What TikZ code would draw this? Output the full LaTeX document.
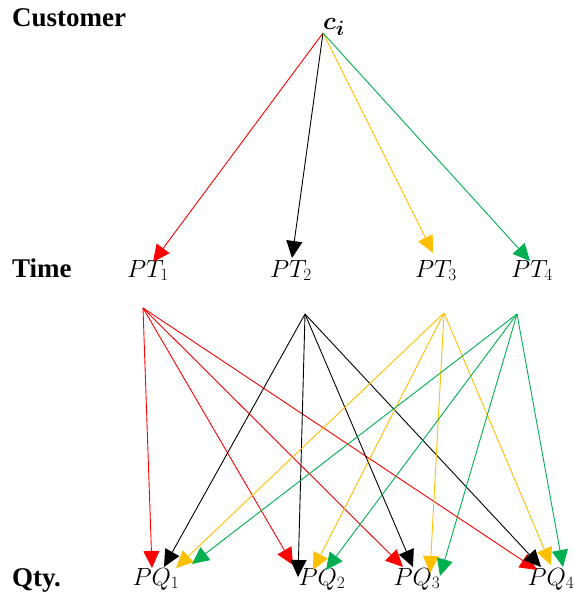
\documentclass[tikz,border=0pt]{standalone}
\usepackage{amsmath,amssymb}
\usepackage{fontspec}
\setmainfont{Liberation Serif}
\newfontfamily\rowfont{Liberation Serif}
\usepackage{xcolor}
\usepackage{tikz}
\usetikzlibrary{arrows.meta, calc}
\definecolor{ArcRed}{HTML}{FF0000}
\definecolor{ArcYellow}{HTML}{FFC000}
\definecolor{ArcGreen}{HTML}{00B050}
\tikzset{
  rowname/.style={anchor=base west, inner sep=0pt,
    font=\fontsize{27}{32}\selectfont\rowfont\bfseries},
  var/.style={anchor=base, inner sep=0pt,
    font=\fontsize{24}{28}\selectfont},
  arrow/.style={-{Triangle[length=17pt, width=16pt]}, line width=0.9pt},
}

\begin{document}
\begin{tikzpicture}[x=1pt, y=-1pt]
  \useasboundingbox (0,0) rectangle (573,594);

  % Row names
  \node[rowname] (rcust) at (12,27)  {Customer};
  \node[rowname] (rtime) at (12,277) {Time};
  \node[rowname] (rqty)  at (12,586) {Qty.};

  % Customer
  \node[var, font=\fontsize{29}{34}\selectfont] (ci) at (334,30) {$\boldsymbol{c_i}$};
  \coordinate (apex) at (323,33);

  % Time
  \node[var] (pt1) at (148,277) {$PT_1$};
  \node[var] (pt2) at (291,277) {$PT_2$};
  \node[var] (pt3) at (436,277) {$PT_3$};
  \node[var] (pt4) at (532,277) {$PT_4$};

  % Qty
  \node[var] (pq1) at (156,585) {$PQ_1$};
  \node[var] (pq2) at (322,585) {$PQ_2$};
  \node[var] (pq3) at (417,585) {$PQ_3$};
  \node[var] (pq4) at (551,585) {$PQ_4$};

  % Arrow ends at the time row
  \coordinate (t1) at (153,262);
  \coordinate (t2) at (292,258);
  \coordinate (t3) at (433,253);
  \coordinate (t4) at (530,261);

  % Arrow starts below the time row
  \coordinate (s1) at (143,308);
  \coordinate (s2) at (305,314);
  \coordinate (s3) at (444,313);
  \coordinate (s4) at (517,314);

  % Arrow ends at the qty row (q<qty><time>)
  \foreach \n/\x/\y in {q11/152/568, q12/164/567, q13/176/568, q14/192/564,
                        q21/293/565, q22/298/577, q23/313/570, q24/326/570,
                        q31/403/567, q32/413/567, q33/430/573, q34/440/576,
                        q41/537/570, q42/541/567, q43/551/565, q44/563/567}
    \coordinate (\n) at (\x,\y);

  % Customer to time
  \draw[arrow, ArcRed]    (apex) -- (t1);
  \draw[arrow, black]     (apex) -- (t2);
  \draw[arrow, ArcYellow] (apex) -- (t3);
  \draw[arrow, ArcGreen]  (apex) -- (t4);

  % Time to qty
  \foreach \i/\c in {1/ArcRed, 2/black, 3/ArcYellow, 4/ArcGreen}
    \foreach \j in {1,...,4}
      \draw[arrow, \c] (s\i) -- (q\j\i);

\end{tikzpicture}
\end{document}
